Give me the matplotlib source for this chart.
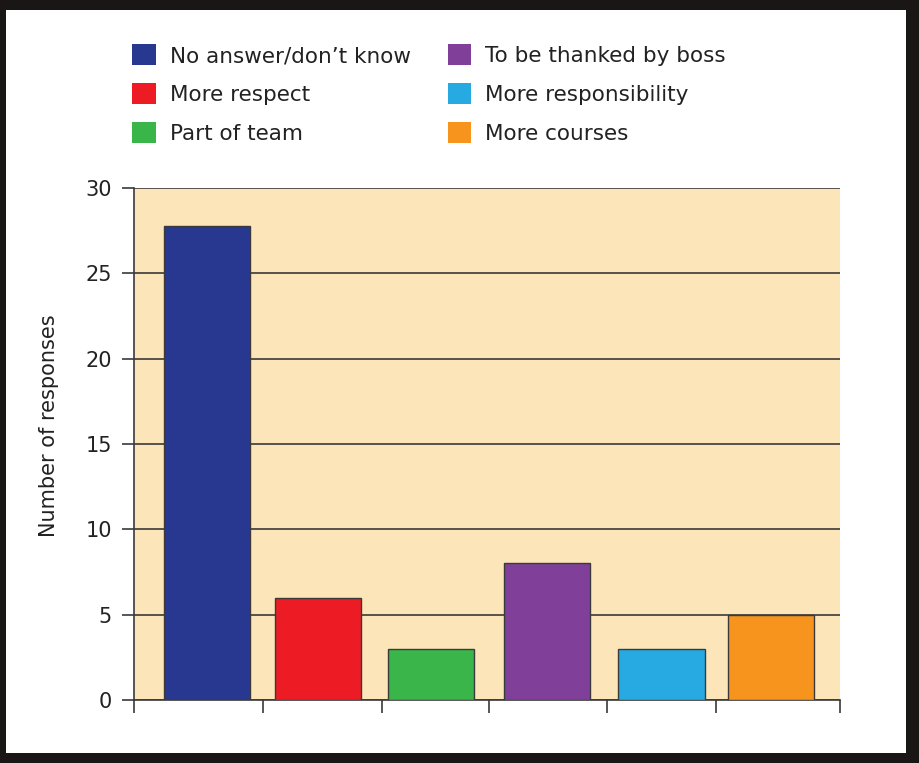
import matplotlib.pyplot as plt
from matplotlib.patches import Rectangle, Patch

categories = ['No answer/don\u2019t know', 'More respect', 'Part of team',
              'To be thanked by boss', 'More responsibility', 'More courses']
responses = [27.8, 6, 3, 8, 3, 5]
colors = ['#283891', '#ED1C24', '#39B54A', '#803F98', '#27AAE1', '#F7941D']
yticks = [0, 5, 10, 15, 20, 25, 30]

# layout of the bars and separators along x (axis runs 0..6)
bar_pos = [0.62, 1.565, 2.525, 3.51, 4.485, 5.415]
sep_pos = [0, 1.096, 2.108, 3.017, 4.02, 4.946, 6]

plt.rcParams['font.family'] = ['DejaVu Sans']
W, H = 920, 763
fig = plt.figure(figsize=(W / 100, H / 100), dpi=100, facecolor='#1a1616')
# white panel inside black frame
fig.patches.append(Rectangle((6 / W, 10 / H), 900 / W, 743 / H, transform=fig.transFigure,
                             facecolor='white', edgecolor='none', zorder=-5))

ax = fig.add_axes([134 / W, 63 / H, 706 / W, 512 / H])
ax.set_zorder(2)
ax.set_facecolor('#FDE5BA')
line_col = '#3a3a3a'

ax.bar(bar_pos, responses, width=0.735, color=colors, edgecolor=line_col, linewidth=1.0, zorder=3)

ax.set_xlim(0, 6)
ax.set_ylim(0, 30)
ax.set_yticks(yticks)
ax.set_yticklabels([str(v) for v in yticks], fontsize=15, color='#222222')
ax.set_xticks(sep_pos)
ax.set_xticklabels([])
ax.tick_params(axis='y', length=9, width=1.2, color=line_col, pad=7)
ax.tick_params(axis='x', length=9.5, width=1.2, color=line_col)
ax.grid(axis='y', color=line_col, linewidth=1.2, zorder=1)
for s in ['top', 'right']:
    ax.spines[s].set_visible(False)
ax.spines['left'].set_color(line_col)
ax.spines['left'].set_linewidth(1.2)
ax.spines['bottom'].set_color(line_col)
ax.spines['bottom'].set_linewidth(1.2)
ax.set_ylabel('Number of responses', fontsize=15, color='#222222')
ax.yaxis.set_label_coords(-0.106, 0.535)

handles = [Patch(facecolor=c, edgecolor='none') for c in colors]
fig.legend(handles, categories, loc='upper left', bbox_to_anchor=(113 / W, 1 - 25 / H),
           ncol=2, frameon=False, fontsize=15.5, handlelength=1.1, handleheight=1.1,
           handletextpad=0.65, columnspacing=1.7, labelspacing=0.8, labelcolor='#222222')

fig.savefig('out.png', dpi=100, facecolor=fig.get_facecolor())
